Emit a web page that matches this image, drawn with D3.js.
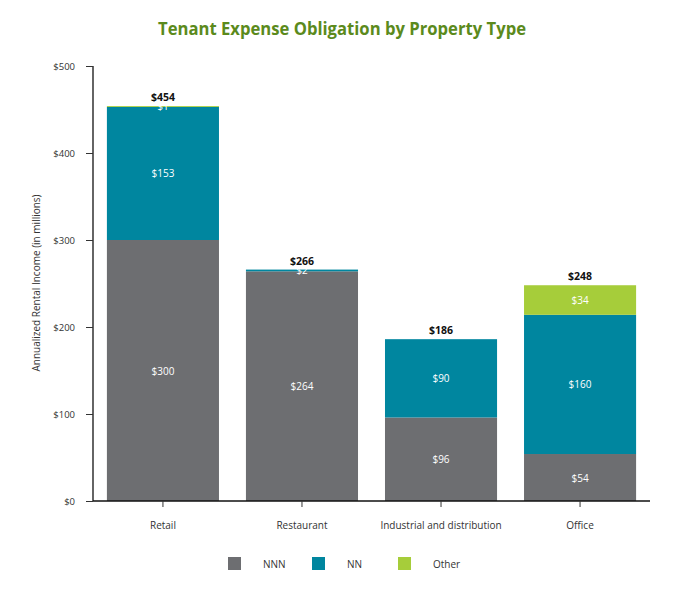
<!DOCTYPE html>
<html><head><meta charset="utf-8">
<script src="https://cdn.jsdelivr.net/npm/d3@7"></script>
<style>body{margin:0;background:#fff;} text{font-family:"Open Sans","Noto Sans",sans-serif;}</style>
</head><body>
<svg id="c" width="684" height="600"></svg>
<script>
const categories = ["Retail", "Restaurant", "Industrial and distribution", "Office"];
const seriesNames = ["NNN", "NN", "Other"];
const nnn = [300, 264, 96, 54];
const nn = [153, 2, 90, 160];
const other = [1, 0, 0, 34];
const totals = [454, 266, 186, 248];
const yTicks = [0, 100, 200, 300, 400, 500];
const colors = ["#6d6e71", "#00869f", "#a6cd3a"];

const svg = d3.select("#c");
const x0 = 93, x1 = 650, yTop = 66, yBot = 501;
const x = d3.scaleBand().domain(categories).range([x0, x1]).paddingInner(0.194).paddingOuter(0.1);
const y = d3.scaleLinear().domain([0, 500]).range([yBot, yTop]);

svg.append("text").attr("x", 342).attr("y", 35).attr("text-anchor", "middle")
  .attr("fill", "#5b8a1c").attr("font-weight", "bold").attr("font-size", 18.5)
  .attr("textLength", 368).attr("lengthAdjust", "spacingAndGlyphs")
  .text("Tenant Expense Obligation by Property Type");

const rows = categories.map((c, i) => ({cat: c, NNN: nnn[i], NN: nn[i], Other: other[i]}));
const stack = d3.stack().keys(seriesNames)(rows);

stack.forEach((layer, li) => {
  const g = svg.append("g");
  g.selectAll("rect").data(layer).join("rect")
    .attr("x", d => x(d.data.cat)).attr("width", x.bandwidth())
    .attr("y", d => y(d[1])).attr("height", d => y(d[0]) - y(d[1]))
    .attr("fill", colors[li]);
});
stack.forEach((layer, li) => {
  svg.append("g").selectAll("text").data(layer.filter(d => d[1] - d[0] > 0)).join("text")
    .attr("x", d => x(d.data.cat) + x.bandwidth() / 2)
    .attr("y", d => y((d[0] + d[1]) / 2) + 4)
    .attr("text-anchor", "middle").attr("fill", "#fff").attr("font-size", 10)
    .text(d => "$" + (d[1] - d[0]));
});
svg.append("g").selectAll("text").data(categories).join("text")
  .attr("x", c => x(c) + x.bandwidth() / 2)
  .attr("y", (c, i) => y(totals[i]) - 5)
  .attr("text-anchor", "middle").attr("font-weight", "bold").attr("font-size", 10.5).attr("fill", "#111")
  .text((c, i) => "$" + totals[i]);

// axes
const ya = svg.append("g").attr("transform", `translate(${x0},0)`)
  .call(d3.axisLeft(y).tickValues(yTicks).tickSize(7).tickPadding(11).tickFormat(d => "$" + d));
ya.select(".domain").attr("stroke", "#111").attr("stroke-width", 1.3).attr("d", `M0,${yTop}V${yBot}`);
ya.selectAll(".tick line").attr("stroke", "#333");
ya.selectAll(".tick text").attr("font-size", 9.5).attr("fill", "#333");

const xa = svg.append("g").attr("transform", `translate(0,${yBot})`)
  .call(d3.axisBottom(x).tickSize(7).tickPadding(14));
xa.select(".domain").attr("stroke", "#111").attr("stroke-width", 1.6).attr("d", `M${x0},0H${x1}`);
xa.selectAll(".tick line").attr("stroke", "#333").attr("y2", 6);
xa.selectAll(".tick text").attr("font-size", 10).attr("fill", "#333");

svg.append("text").attr("transform", "translate(40,283) rotate(-90)")
  .attr("text-anchor", "middle").attr("font-size", 10).attr("fill", "#333")
  .text("Annualized Rental Income (in millions)");

// legend
const legX = [228, 312, 398];
const lg = svg.append("g");
seriesNames.forEach((s, i) => {
  lg.append("rect").attr("x", legX[i]).attr("y", 557).attr("width", 13).attr("height", 13).attr("fill", colors[i]);
  lg.append("text").attr("x", legX[i] + 35).attr("y", 567.5).attr("font-size", 10).attr("fill", "#333").text(s);
});
</script>
</body></html>
